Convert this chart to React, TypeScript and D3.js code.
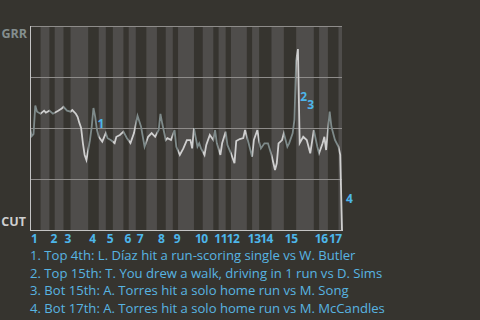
import React from 'react';
import * as d3 from 'd3';

// plate appearances per half-inning (top 1st, bot 1st, ... bot 17th)
const halfInningPAs = [6, 5, 3, 5, 4, 10, 6, 4, 4, 6, 3, 4, 6, 6, 5, 4, 3, 9, 5, 6, 3, 4, 3, 9, 3, 4, 7, 7, 7, 10, 3, 5, 6, 2];
const inningLabels = d3.range(1, 18).map(String);
const awayTeam = 'GRR';
const homeTeam = 'CUT';

// win probability for GRR (%) at plate appearance index
const wpPA = [0, 1, 2, 3, 4, 6, 8, 9, 11, 13, 16, 18, 19, 21, 23, 24, 26, 27, 28, 29, 30, 31, 32, 33, 34, 35, 36, 37, 38, 39, 41, 43, 44, 46, 48, 49, 51, 53, 55, 57, 59, 61, 63, 65, 67, 69, 71, 73, 74, 75, 77, 78, 80, 82, 83, 85, 87, 89, 91, 92, 93, 95, 96, 97, 99, 100, 102, 104, 105, 106, 108, 109, 111, 112, 114, 116, 117, 119, 121, 122, 124, 126, 127, 129, 130, 131, 133, 135, 137, 139, 140, 141, 143, 144, 146, 147, 149, 150, 151, 152, 153, 155, 157, 159, 161, 163, 164, 166, 167, 168, 170, 171, 173, 175, 176, 177];
const wpValue = [50, 46, 47, 61, 58, 57, 58.5, 57.5, 58.5, 57, 58.5, 59.6, 60.4, 58.5, 58, 58.8, 57, 55.5, 52.5, 50, 42.6, 36.8, 34.3, 39.2, 44, 50.6, 59.8, 55.5, 49, 45.7, 43.3, 47.5, 45, 44, 42.6, 45.7, 46.6, 48.2, 45, 42.6, 47.5, 56, 50.6, 40.8, 45.7, 47.5, 45.7, 49, 56.9, 52.3, 44.1, 45, 44.1, 49, 40.8, 36.8, 40, 44.1, 44.1, 40, 49.9, 40.8, 42.5, 40, 36.8, 41.7, 46.6, 44.1, 49, 42.5, 36.8, 42.5, 48.2, 41.7, 37.6, 32.7, 43.6, 44.6, 45.1, 49, 42.6, 35.9, 44.1, 49, 43.3, 40, 42.5, 42.5, 36.8, 29.4, 32.7, 42.5, 44.1, 47.4, 40.8, 42.5, 47.4, 54, 83, 88.7, 42.6, 45.7, 44.1, 37.6, 49, 40.8, 37.6, 42.5, 45.7, 39.2, 58, 50.6, 44.1, 40.8, 36.8, 0];

const eventPA = [36, 151, 153, 177];
const eventText = [
  'Top 4th: L. Díaz hit a run-scoring single vs W. Butler',
  'Top 15th: T. You drew a walk, driving in 1 run vs D. Sims',
  'Bot 15th: A. Torres hit a solo home run vs M. Song',
  'Bot 17th: A. Torres hit a solo home run vs M. McCandles',
];

const W = 480;
const H = 320;
const M = { left: 30, right: 342, top: 26, bottom: 230 };
const FONT = "'Open Sans', 'Noto Sans', sans-serif";

export default function App() {
  const total = d3.sum(halfInningPAs);
  const starts = halfInningPAs.map((_, i) => d3.sum(halfInningPAs.slice(0, i)));
  const x = d3.scaleLinear().domain([0, total]).range([M.left, M.right]);
  const y = d3.scaleLinear().domain([0, 100]).range([M.bottom, M.top]);

  const pts: [number, number][] = wpPA.map((p, i) => [p, wpValue[i]]);
  const line = d3.line<[number, number]>().x(d => x(d[0])).y(d => y(d[1]));
  const pathD = line(pts) || '';

  const bands = halfInningPAs.map((n, i) => ({ i, x0: x(starts[i]), x1: x(starts[i] + n), top: i % 2 === 0 }));

  const labels: { k: number; lx: number; ly: number }[] = [];
  eventPA.forEach((pa, k) => {
    const idx = wpPA.indexOf(pa);
    const prev = wpValue[idx - 1];
    const cur = wpValue[idx];
    let lx = x(pa) + 4;
    let ly = (y(prev) + y(cur)) / 2 + 6;
    const p = labels[labels.length - 1];
    if (p && Math.abs(lx - p.lx) < 10 && Math.abs(ly - p.ly) < 12) {
      lx = p.lx + 7;
      ly = p.ly + 8;
    }
    labels.push({ k, lx, ly });
  });

  return (
    <svg width={W} height={H} style={{ position: 'absolute', left: 0, top: 0, display: 'block' }} fontFamily={FONT}>
      <rect x={0} y={0} width={W} height={H} fill="#36342f" />
      <defs>
        <clipPath id="clipTop">
          {bands.filter(b => b.top).map(b => (
            <rect key={b.i} x={b.x0} y={0} width={b.x1 - b.x0} height={H} />
          ))}
        </clipPath>
        <clipPath id="clipBot">
          {bands.filter(b => !b.top).map(b => (
            <rect key={b.i} x={b.x0} y={0} width={b.x1 - b.x0 + (b.i === bands.length - 1 ? 2 : 0)} height={H} />
          ))}
        </clipPath>
      </defs>
      {bands.filter(b => !b.top).map(b => (
        <rect key={b.i} x={b.x0} y={M.top} width={b.x1 - b.x0} height={M.bottom - M.top} fill="#4f4d4b" />
      ))}
      {[25, 50, 75, 100].map(v => (
        <line key={v} x1={M.left} x2={M.right} y1={Math.round(y(v)) + 0.5} y2={Math.round(y(v)) + 0.5} stroke="#8e8c8a" strokeWidth={1} />
      ))}
      <path d={pathD} fill="none" stroke="#7e8a8a" strokeWidth={1.8} clipPath="url(#clipTop)" />
      <path d={pathD} fill="none" stroke="#cfcfcf" strokeWidth={1.8} clipPath="url(#clipBot)" />
      <line x1={M.left + 0.5} x2={M.left + 0.5} y1={M.top} y2={M.bottom} stroke="#c4c4c4" strokeWidth={1} />
      <line x1={M.left} x2={M.right + 1} y1={M.bottom + 0.5} y2={M.bottom + 0.5} stroke="#c4c4c4" strokeWidth={1} />
      <text x={27} y={37.5} textAnchor="end" fontSize={12.5} fontWeight="bold" fill="#848e8e">{awayTeam}</text>
      <text x={26} y={226} textAnchor="end" fontSize={12.5} fontWeight="bold" fill="#cfcfcf">{homeTeam}</text>
      {inningLabels.map((lab, j) => (
        <text key={lab} x={x(starts[j * 2]) + 1} y={243} fontSize={12} fontWeight="bold" fill="#4db6ea" letterSpacing={-0.5}>{lab}</text>
      ))}
      {labels.map(l => (
        <text key={l.k} x={l.lx} y={l.ly} dominantBaseline="central" fontSize={12} fontWeight="bold" fill="#4db6ea">{l.k + 1}</text>
      ))}
      {eventText.map((t, k) => (
        <text key={k} x={30} y={260 + k * 17.7} fontSize={13.1} fill="#58b4e2">{`${k + 1}. ${t}`}</text>
      ))}
    </svg>
  );
}
